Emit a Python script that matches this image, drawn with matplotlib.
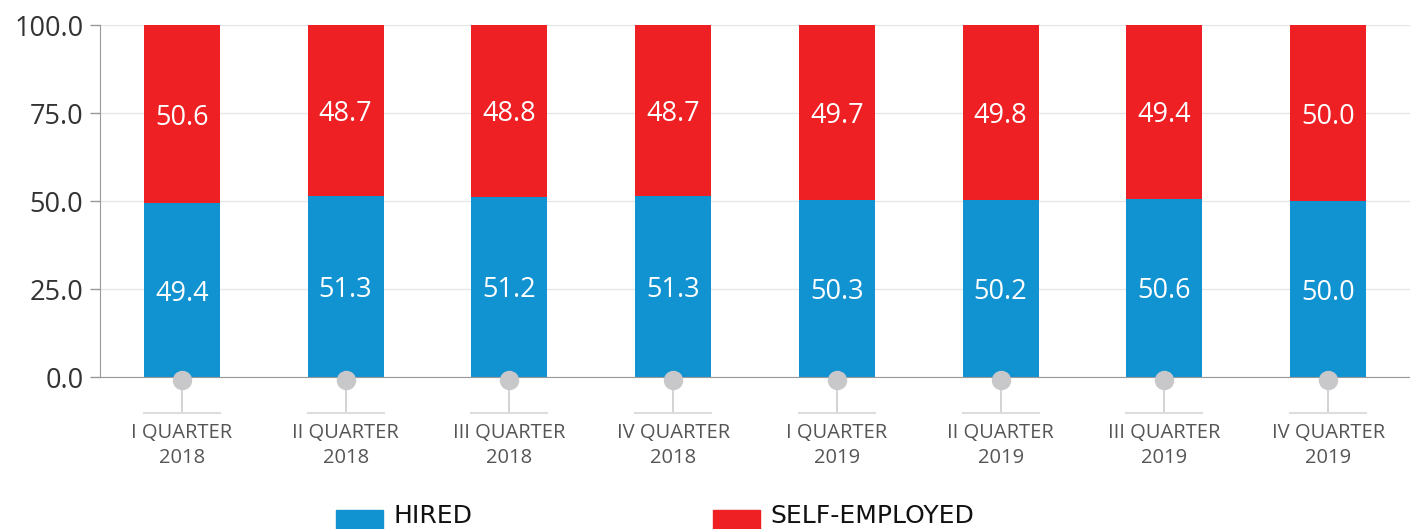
import matplotlib
matplotlib.use('Agg')
import matplotlib.pyplot as plt
import matplotlib.transforms as mtransforms
from matplotlib.patches import Rectangle

quarters = ['I QUARTER\n2018', 'II QUARTER\n2018', 'III QUARTER\n2018', 'IV QUARTER\n2018',
            'I QUARTER\n2019', 'II QUARTER\n2019', 'III QUARTER\n2019', 'IV QUARTER\n2019']
hired = [49.4, 51.3, 51.2, 51.3, 50.3, 50.2, 50.6, 50.0]
self_employed = [50.6, 48.7, 48.8, 48.7, 49.7, 49.8, 49.4, 50.0]
yticks = [0, 25, 50, 75, 100]

BLUE = '#1192d1'
RED = '#ee2024'

plt.rcParams['font.family'] = ['Open Sans', 'DejaVu Sans']

fig = plt.figure(figsize=(14.1, 5.29), dpi=100)
ax = fig.add_axes([100 / 1410, 152 / 529, 1310 / 1410, 352 / 529])

x = list(range(len(quarters)))
w = 0.465
ax.bar(x, hired, width=w, color=BLUE, zorder=2)
ax.bar(x, self_employed, width=w, bottom=hired, color=RED, zorder=2)

for i in x:
    ax.text(i, hired[i] / 2, f'{hired[i]:.1f}', ha='center', va='center_baseline',
            color='white', fontsize=19.5, zorder=3)
    ax.text(i, hired[i] + self_employed[i] / 2, f'{self_employed[i]:.1f}',
            ha='center', va='center_baseline', color='white', fontsize=19.5, zorder=3)

ax.set_xlim(-0.5, len(quarters) - 0.5)
ax.set_ylim(0, 100)
ax.set_yticks(yticks)
ax.set_yticklabels([f'{v:.1f}' for v in yticks], fontsize=19.5, color='#333333')
ax.yaxis.grid(True, color='#e6e6e6', linewidth=1, zorder=0)
ax.tick_params(axis='y', length=7, color='#999999', width=1, pad=5)

ax.set_xticks(x)
ax.set_xticklabels(quarters, fontsize=14.5, color='#555555', linespacing=1.35)
ax.tick_params(axis='x', length=0, pad=33)

for side in ['top', 'right']:
    ax.spines[side].set_visible(False)
ax.spines['left'].set_color('#999999')
ax.spines['bottom'].set_color('#999999')
ax.spines['bottom'].set_zorder(3)

# connector dots and lines under each category
trans = mtransforms.blended_transform_factory(ax.transData, ax.transAxes)
for i in x:
    ax.plot([i, i], [0, -0.102], transform=trans, color='#cccccc', lw=1.2,
            clip_on=False, zorder=4)
    ax.plot([i - w / 2, i + w / 2], [-0.102, -0.102], transform=trans,
            color='#dddddd', lw=1.5, clip_on=False, zorder=4)
dot_trans = ax.transData + mtransforms.ScaledTranslation(0, -3 / 100, fig.dpi_scale_trans)
ax.plot(x, [0] * len(x), 'o', color='#c8c8ca', markersize=13, clip_on=False,
        zorder=5, transform=dot_trans)

# legend
for px, label, col in [(336, 'HIRED', BLUE), (713, 'SELF-EMPLOYED', RED)]:
    fig.patches.append(Rectangle((px / 1410, -10 / 529), 47 / 1410, 29 / 529,
                                 transform=fig.transFigure, color=col))
    fig.text((px + 57) / 1410, 1 / 529, label, fontsize=18, color='#111111',
             ha='left', va='bottom', family=['Liberation Sans Narrow', 'DejaVu Sans'])

fig.savefig('out.png', dpi=100)
